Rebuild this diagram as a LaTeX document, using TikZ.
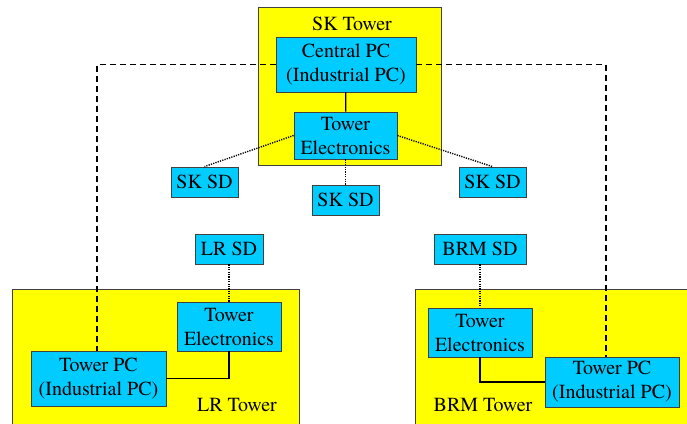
\documentclass[tikz,border=0pt]{standalone}
\usepackage{fontspec}
\setmainfont{texgyretermes}[Extension=.otf, UprightFont=*-regular, BoldFont=*-bold]
\usetikzlibrary{calc}

\definecolor{towerYellow}{RGB}{255,255,0}
\definecolor{boxBlue}{RGB}{0,204,255}

\tikzset{
  tower/.style={draw=black!75, fill=towerYellow, line width=0.8pt, inner sep=0pt},
  unit/.style={draw=black!75, fill=boxBlue, line width=0.8pt, inner sep=0pt, align=center,
    font=\fontsize{20}{24}\selectfont},
  towername/.style={font=\fontsize{20}{24}\selectfont},
  wire/.style={line width=1.2pt},
  bus/.style={line width=1.4pt, dash pattern=on 6pt off 4pt},
  sensor/.style={line width=1.4pt, dash pattern=on 1.2pt off 1.2pt}
}

\begin{document}
\begin{tikzpicture}[x=1pt,y=-1pt]
    \useasboundingbox (0,0) rectangle (687,423);
    \clip (0,0) rectangle (687,423);

    % towers
    \node[tower, minimum width=183pt, minimum height=158pt] (skTower) at (349.5,86) {};
    \node[tower, minimum width=287pt, minimum height=151pt] (lrTower) at (155.5,364.5) {};
    \node[tower, minimum width=285pt, minimum height=151pt] (brmTower) at (557.5,364.5) {};
    \node[towername] (skName) at (352,24) {SK Tower};
    \node[towername] (lrName) at (237,405) {LR Tower};
    \node[towername] (brmName) at (483,405) {BRM Tower};

    % SK tower
    \node[unit, minimum width=140pt, minimum height=55pt] (centralPC) at (346,64.5) {Central PC\\(Industrial PC)};
    \node[unit, minimum width=103pt, minimum height=47pt] (skTE) at (345.5,135.5) {Tower\\Electronics};
    \node[unit, minimum width=67pt, minimum height=30pt] (skSDa) at (204.5,182) {SK SD};
    \node[unit, minimum width=67pt, minimum height=30pt] (skSDb) at (345.5,200) {SK SD};
    \node[unit, minimum width=67pt, minimum height=30pt] (skSDc) at (492.5,182) {SK SD};

    % LR tower
    \node[unit, minimum width=68pt, minimum height=30pt] (lrSD) at (229,249) {LR SD};
    \node[unit, minimum width=104pt, minimum height=49pt] (lrTE) at (229,326.5) {Tower\\Electronics};
    \node[unit, minimum width=135pt, minimum height=55pt] (lrPC) at (98.5,378.5) {Tower PC\\(Industrial PC)};

    % BRM tower
    \node[unit, minimum width=92pt, minimum height=30pt] (brmSD) at (480,249) {BRM SD};
    \node[unit, minimum width=104pt, minimum height=49pt] (brmTE) at (480,332.5) {Tower\\Electronics};
    \node[unit, minimum width=134pt, minimum height=50pt] (brmPC) at (612,382) {Tower PC\\(Industrial PC)};

    % connections
    \draw[wire] (centralPC) -- (skTE);
    \draw[wire] (lrTE.south) |- (lrPC.east);
    \draw[wire] (brmTE.south) |- (brmPC.west);

    \draw[bus] (centralPC.west) -| ([xshift=-1.5pt]lrPC.north);
    \draw[bus] (centralPC.east) -| ([xshift=-6pt]brmPC.north);

    \draw[sensor] (skTE.west) -- (skSDa.north);
    \draw[sensor] (skTE.south) -- (skSDb.north);
    \draw[sensor] (skTE.east) -- (skSDc.north);
    \draw[sensor] (lrSD) -- (lrTE);
    \draw[sensor] (brmSD) -- (brmTE);
\end{tikzpicture}
\end{document}
